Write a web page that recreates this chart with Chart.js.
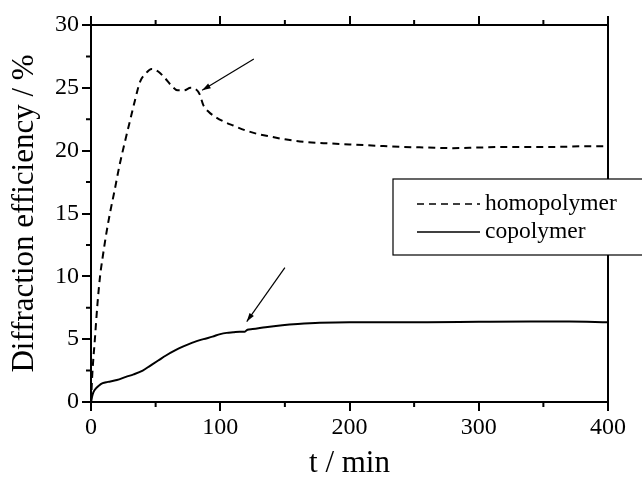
<!DOCTYPE html>
<html>
<head>
<meta charset="utf-8">
<script src="https://cdn.jsdelivr.net/npm/chart.js@4.4.1/dist/chart.umd.min.js"></script>
<style>
  html, body { margin: 0; padding: 0; background: #fff; }
  #wrap { width: 642px; height: 482px; position: relative; }
</style>
</head>
<body>
<div id="wrap"><canvas id="chart"></canvas></div>
<script>
// homopolymer curve (dashed)
const homoT = [0, 1, 3, 5, 7, 9, 12, 15, 18, 22, 26, 30, 34, 38, 42, 47, 52, 57, 62, 67, 72, 77, 81, 84, 87, 91, 96, 103, 110, 120, 130, 140, 150, 165, 180, 200, 220, 240, 260, 280, 300, 320, 340, 360, 380, 400];
const homoV = [0, 2.2, 5.0, 7.8, 10.0, 11.5, 13.5, 15.2, 16.7, 18.8, 20.6, 22.3, 24.0, 25.5, 26.1, 26.5, 26.3, 25.8, 25.2, 24.8, 24.8, 25.0, 24.9, 24.5, 23.6, 23.1, 22.7, 22.3, 22.0, 21.6, 21.3, 21.1, 20.9, 20.7, 20.6, 20.5, 20.4, 20.3, 20.25, 20.2, 20.25, 20.3, 20.3, 20.3, 20.35, 20.35];

// copolymer curve (solid)
const coT = [0, 1, 2, 4, 6, 9, 13, 20, 27, 33, 40, 46, 52, 58, 65, 71, 78, 87, 94, 100, 105, 110, 115, 119, 121, 125, 135, 148, 160, 177, 200, 230, 260, 300, 340, 370, 400];
const coV = [0, 0.5, 0.8, 1.1, 1.3, 1.5, 1.6, 1.75, 2.0, 2.2, 2.5, 2.9, 3.3, 3.7, 4.1, 4.4, 4.7, 5.0, 5.2, 5.4, 5.5, 5.55, 5.6, 5.6, 5.75, 5.8, 5.95, 6.1, 6.2, 6.3, 6.35, 6.35, 6.35, 6.38, 6.4, 6.4, 6.35];

// axis ticks
const xMinor = [50, 150, 250, 350];
const yMinor = [2.5, 7.5, 12.5, 17.5, 22.5, 27.5];

// arrows [tailT, tailV, headT, headV]
const arrows = [
    [126, 27.3, 86, 24.8],
    [150, 10.7, 120.5, 6.4]
];

const serif = '"Liberation Serif", "DejaVu Serif", serif';

function toPoints(ts, vs) {
    return ts.map((t, i) => ({ x: t, y: vs[i] }));
}

// draws minor ticks, arrows and the legend box
const extrasPlugin = {
    id: 'extras',
    afterDraw(chart) {
        const ctx = chart.ctx;
        const sx = chart.scales.x, sy = chart.scales.y;
        const area = chart.chartArea;
        ctx.save();
        ctx.strokeStyle = '#000';
        ctx.lineWidth = 2;
        ctx.beginPath();
        xMinor.forEach(v => {
            const px = sx.getPixelForValue(v);
            ctx.moveTo(px, area.bottom);
            ctx.lineTo(px, area.bottom + 5);
            ctx.moveTo(px, area.top);
            ctx.lineTo(px, area.top - 5);
        });
        yMinor.forEach(v => {
            const py = sy.getPixelForValue(v);
            ctx.moveTo(area.left, py);
            ctx.lineTo(area.left - 5, py);
        });
        ctx.stroke();

        // arrows
        ctx.lineWidth = 1.2;
        arrows.forEach(a => {
            const x1 = sx.getPixelForValue(a[0]), y1 = sy.getPixelForValue(a[1]);
            const x2 = sx.getPixelForValue(a[2]), y2 = sy.getPixelForValue(a[3]);
            const ang = Math.atan2(y2 - y1, x2 - x1);
            ctx.beginPath();
            ctx.moveTo(x1, y1);
            ctx.lineTo(x2, y2);
            ctx.stroke();
            ctx.beginPath();
            ctx.moveTo(x2, y2);
            ctx.lineTo(x2 - 9 * Math.cos(ang - 0.3), y2 - 9 * Math.sin(ang - 0.3));
            ctx.lineTo(x2 - 9 * Math.cos(ang + 0.3), y2 - 9 * Math.sin(ang + 0.3));
            ctx.closePath();
            ctx.fillStyle = '#000';
            ctx.fill();
        });

        // legend box
        const bx = 393, by = 179, bw = 260, bh = 76;
        ctx.fillStyle = '#fff';
        ctx.fillRect(bx, by, bw, bh);
        ctx.lineWidth = 1.2;
        ctx.strokeRect(bx, by, bw, bh);
        ctx.font = '23.5px ' + serif;
        ctx.textBaseline = 'middle';
        ctx.fillStyle = '#000';
        chart.data.datasets.forEach((ds, i) => {
            const ly = 204 + i * 28;
            ctx.beginPath();
            ctx.lineWidth = 1.6;
            ctx.setLineDash(ds.borderDash || []);
            ctx.moveTo(417, ly);
            ctx.lineTo(480, ly);
            ctx.stroke();
            ctx.setLineDash([]);
            ctx.fillText(ds.label, 485, ly);
        });
        ctx.restore();
    }
};

const tickFont = { family: serif, size: 24 };

new Chart(document.getElementById('chart'), {
    type: 'line',
    data: {
        datasets: [{
            label: 'homopolymer',
            data: toPoints(homoT, homoV),
            borderColor: '#000',
            borderWidth: 2,
            borderDash: [7, 5],
            pointRadius: 0,
            cubicInterpolationMode: 'monotone',
            fill: false
        }, {
            label: 'copolymer',
            data: toPoints(coT, coV),
            borderColor: '#000',
            borderWidth: 2,
            pointRadius: 0,
            cubicInterpolationMode: 'monotone',
            fill: false
        }]
    },
    options: {
        responsive: true,
        maintainAspectRatio: false,
        animation: false,
        layout: { padding: 0 },
        plugins: {
            legend: { display: false },
            tooltip: { enabled: false }
        },
        scales: {
            x: {
                type: 'linear',
                position: 'bottom',
                min: 0, max: 400,
                ticks: { stepSize: 100, color: '#000', font: tickFont, padding: 2, maxRotation: 0 },
                grid: { drawOnChartArea: false, tickLength: 9, lineWidth: 2, color: '#000' },
                border: { display: true, color: '#000', width: 2 },
                title: { display: true, text: 't / min', color: '#000', font: { family: serif, size: 31 }, padding: { top: 0, bottom: 0 } },
                afterFit(scale) { scale.height = 80; }
            },
            x2: {
                type: 'linear',
                position: 'top',
                min: 0, max: 400,
                ticks: { stepSize: 100, display: false },
                grid: { drawOnChartArea: false, tickLength: 9, lineWidth: 2, color: '#000' },
                border: { display: true, color: '#000', width: 2 },
                afterFit(scale) { scale.height = 25; }
            },
            y: {
                position: 'left',
                min: 0, max: 30,
                ticks: { stepSize: 5, color: '#000', font: tickFont, padding: 3 },
                grid: { drawOnChartArea: false, tickLength: 9, lineWidth: 2, color: '#000' },
                border: { display: true, color: '#000', width: 2 },
                title: { display: true, text: 'Diffraction efficiency / %', color: '#000', font: { family: serif, size: 31 }, padding: { top: 6, bottom: 0 } },
                afterFit(scale) { scale.width = 91; }
            },
            y2: {
                position: 'right',
                min: 0, max: 30,
                ticks: { display: false },
                grid: { display: false },
                border: { display: true, color: '#000', width: 2 },
                afterFit(scale) { scale.width = 34; }
            }
        }
    },
    plugins: [extrasPlugin]
});
</script>
</body>
</html>
